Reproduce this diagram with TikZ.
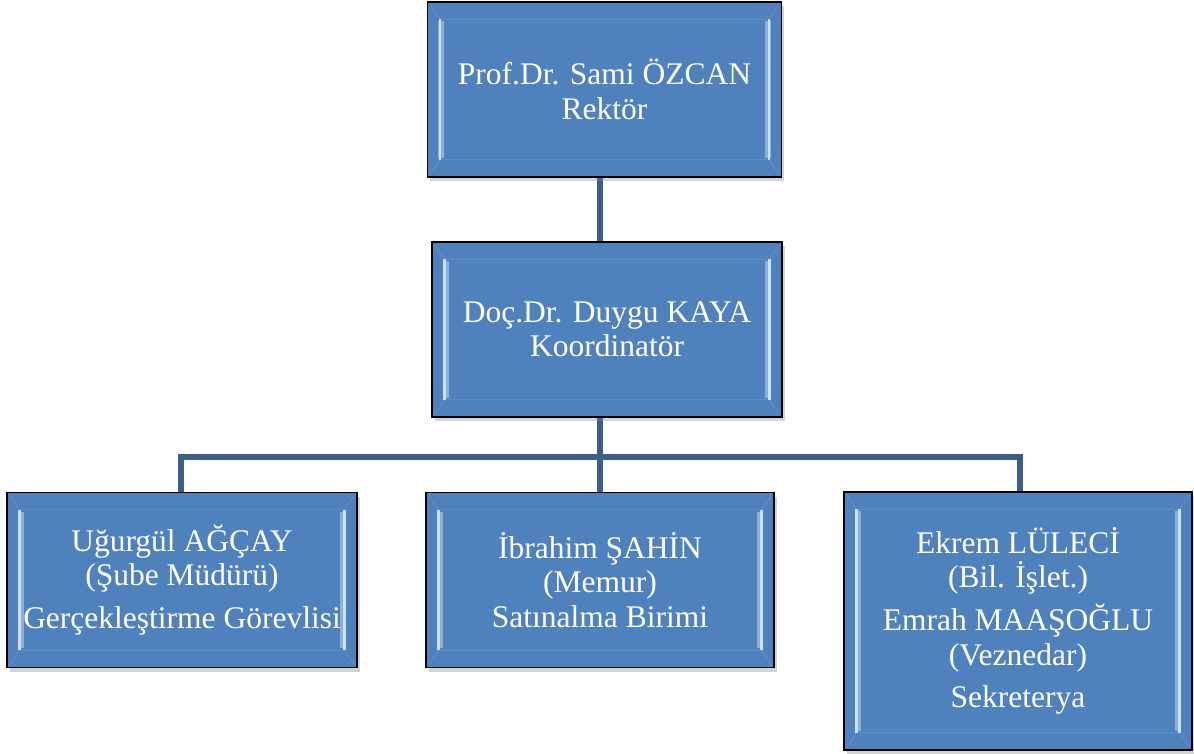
\documentclass[tikz,border=0pt]{standalone}
\usepackage{fontspec}
\setmainfont{Liberation Serif}
\usetikzlibrary{calc}
\usetikzlibrary{shadows}
\definecolor{boxblue}{RGB}{79,129,189}
\definecolor{linkblue}{RGB}{59,94,140}
\definecolor{bevellight}{RGB}{205,226,248}
\definecolor{bevelsoft}{RGB}{140,176,220}
\definecolor{bevelmid}{RGB}{98,146,202}
\tikzstyle{unit} = [draw=black,line width=0.9pt,fill=boxblue,text=white,align=center,
  minimum width=8.7cm,minimum height=4.375cm,inner sep=2pt,
  font=\fontsize{22.4}{24.5}\selectfont,
  drop shadow={opacity=0.35,shadow xshift=2pt,shadow yshift=-3pt}]
\tikzstyle{link} = [linkblue,line width=4.5pt]
\newcommand{\bevel}[1]{
\draw[bevelmid,line width=0.5pt] ($(#1.north west)+(0.08cm,-0.08cm)$) -- ($(#1.north west)+(0.33cm,-0.45cm)$) -- ($(#1.north east)+(-0.33cm,-0.45cm)$) -- ($(#1.north east)+(-0.08cm,-0.08cm)$);
\draw[bevelmid,line width=0.5pt] ($(#1.south west)+(0.08cm,0.08cm)$) -- ($(#1.south west)+(0.33cm,0.45cm)$) -- ($(#1.south east)+(-0.33cm,0.45cm)$) -- ($(#1.south east)+(-0.08cm,0.08cm)$);
\draw[bevelsoft,line width=4pt] ($(#1.north west)+(0.36cm,-0.5cm)$) -- ($(#1.south west)+(0.36cm,0.5cm)$);
\draw[bevelsoft,line width=4pt] ($(#1.north east)+(-0.36cm,-0.5cm)$) -- ($(#1.south east)+(-0.36cm,0.5cm)$);
\draw[bevellight,line width=1.6pt] ($(#1.north west)+(0.33cm,-0.45cm)$) -- ($(#1.south west)+(0.33cm,0.45cm)$);
\draw[bevellight,line width=1.6pt] ($(#1.north east)+(-0.33cm,-0.45cm)$) -- ($(#1.south east)+(-0.33cm,0.45cm)$);
}
\begin{document}
\begin{tikzpicture}[x=0.025cm,y=-0.025cm]
\useasboundingbox (0,0) rectangle (1194,754);

% connectors first
\coordinate (bar) at (600,457);
\draw[link] (600,150) -- (600,300);
\draw[link] (600,380) -- (bar);
\draw[link] (181,520) |- (bar) -| (1020,520);
\draw[link] (bar) -- (600,520);

\node[unit,minimum width=8.85cm] (rektor) at (604.5,89.5) {Prof.Dr. Sami ÖZCAN\\Rektör};
\node[unit,minimum width=8.75cm] (koord) at (607,329.5) {Doç.Dr. Duygu KAYA\\Koordinatör};
\node[unit,minimum width=8.75cm] (gercek) at (182,580) {Uğurgül AĞÇAY\\(Şube Müdürü)\\[6pt]Gerçekleştirme Görevlisi};
\node[unit,minimum width=8.7cm] (satin) at (600,580) {İbrahim ŞAHİN\\(Memur)\\Satınalma Birimi};
\node[unit,minimum width=8.7cm,minimum height=6.45cm] (sekr) at (1018,621) {Ekrem LÜLECİ\\(Bil. İşlet.)\\[6pt]Emrah MAAŞOĞLU\\(Veznedar)\\[6pt]Sekreterya};

\foreach \n in {rektor,koord,gercek,satin,sekr} {
\bevel{\n}
}
\end{tikzpicture}
\end{document}
